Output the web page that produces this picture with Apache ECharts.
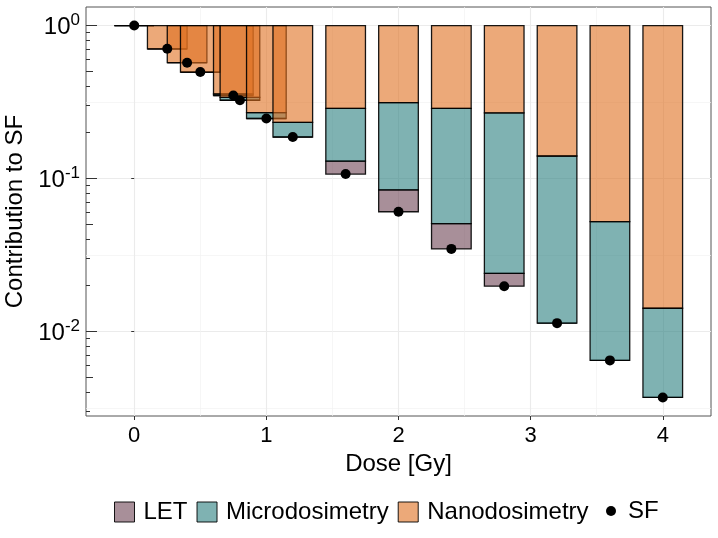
<!DOCTYPE html>
<html>
<head>
<meta charset="utf-8">
<script src="https://cdn.jsdelivr.net/npm/echarts@6/dist/echarts.min.js"></script>
<style>html,body{margin:0;padding:0;background:#fff}#c{width:718px;height:538px}</style>
</head>
<body>
<div id="c"></div>
<script>
const doses    = [0, 0.25, 0.4, 0.5, 0.75, 0.8, 1.0, 1.2, 1.6, 2.0, 2.4, 2.8, 3.2, 3.6, 4.0];
const sf       = [1, 0.705, 0.572, 0.497, 0.349, 0.325, 0.247, 0.187, 0.107, 0.0607, 0.0347, 0.0198, 0.01135, 0.00648, 0.00371];
const letTop   = [1, 0.705, 0.572, 0.497, 0.349, 0.325, 0.247, 0.187, 0.130, 0.0844, 0.0507, 0.0240, 0.01135, 0.00648, 0.00371];
const microTop = [1, 0.705, 0.572, 0.497, 0.357, 0.339, 0.270, 0.233, 0.288, 0.314, 0.288, 0.269, 0.1405, 0.0523, 0.0142];
const nanoTop  = [1, 1, 1, 1, 1, 1, 1, 1, 1, 1, 1, 1, 1, 1, 1];
const xTicks = [0, 1, 2, 3, 4];
const xMinor = [0.5, 1.5, 2.5, 3.5];
const yMajor = [0.01, 0.1, 1];
const yMinor = [0.00316228, 0.0316228, 0.316228];
const logMid = [0.005, 0.05, 0.5];
const logShort = [0.003,0.004,0.006,0.007,0.008,0.009,0.02,0.03,0.04,0.06,0.07,0.08,0.09,0.2,0.3,0.4,0.6,0.7,0.8,0.9];

const HALF = 0.15;
const XMIN = -0.365, XMAX = 4.365;
const YMIN = Math.pow(10, -2.552), YMAX = Math.pow(10, 0.1215);
const FONT = 'Liberation Sans, Arial, Helvetica, sans-serif';
const colors = {
  LET: 'rgba(110,68,85,0.6)',
  Microdosimetry: 'rgba(42,127,127,0.6)',
  Nanodosimetry: 'rgba(224,112,32,0.6)'
};
const STROKE = 'rgba(0,0,0,0.9)';

function rectSeries(name, lows, highs) {
  return {
    name: name,
    type: 'custom',
    xAxisIndex: 0, yAxisIndex: 0,
    clip: true,
    itemStyle: {color: colors[name], borderColor: STROKE, borderWidth: 1},
    encode: {x: 0, y: [1, 2]},
    data: doses.map((d, i) => [d, lows[i], highs[i]]),
    renderItem: function (params, api) {
      const x = api.value(0), lo = api.value(1), hi = api.value(2);
      const p1 = api.coord([x - HALF, hi]);
      const p2 = api.coord([x + HALF, lo]);
      return {
        type: 'rect',
        shape: {x: p1[0], y: p1[1], width: p2[0] - p1[0], height: p2[1] - p1[1]},
        style: {fill: colors[name], stroke: STROKE, lineWidth: 1.3}
      };
    }
  };
}

function hiddenLogAxis(extra) {
  return Object.assign({
    type: 'log', min: YMIN, max: YMAX, gridIndex: 0, position: 'left',
    axisLine: {show: false}, axisLabel: {show: false},
    axisTick: {show: false}, splitLine: {show: false}
  }, extra);
}

const chart = echarts.init(document.getElementById('c'), null, {renderer: 'canvas'});
chart.setOption({
  animation: false,
  backgroundColor: '#fff',
  textStyle: {fontFamily: FONT},
  grid: {left: 86, right: 7, top: 7, bottom: 122, show: true, borderColor: '#555', borderWidth: 1, backgroundColor: '#fff', containLabel: false, outerBoundsMode: 'none'},
  xAxis: [
    {
      type: 'value', min: XMIN, max: XMAX, gridIndex: 0,
      name: 'Dose [Gy]', nameLocation: 'middle', nameGap: 34,
      nameTextStyle: {fontSize: 24, color: '#000', fontFamily: FONT},
      axisLine: {show: false},
      axisTick: {show: true, length: 4, inside: false, customValues: xTicks, lineStyle: {color: '#333', width: 1}},
      axisLabel: {customValues: xTicks, fontSize: 22, color: '#000', margin: 9, fontFamily: FONT},
      splitLine: {show: true, lineStyle: {color: '#ebebeb', width: 1.1}}
    },
    {
      type: 'value', min: XMIN, max: XMAX, gridIndex: 0, position: 'bottom',
      axisLine: {show: false}, axisLabel: {show: false},
      axisTick: {show: false, customValues: xMinor},
      splitLine: {show: true, lineStyle: {color: '#f2f2f2', width: 0.7}}
    }
  ],
  yAxis: [
    {
      type: 'log', min: YMIN, max: YMAX, gridIndex: 0,
      name: 'Contribution to SF', nameLocation: 'middle', nameGap: 56, nameRotate: 90,
      nameTextStyle: {fontSize: 24, color: '#000', fontFamily: FONT},
      axisLine: {show: false},
      axisTick: {show: true, length: 3, customValues: yMajor, lineStyle: {color: '#333', width: 1}},
      axisLabel: {
        customValues: yMajor, margin: 6, color: '#000', fontFamily: FONT,
        formatter: function (v) {
          const e = Math.round(Math.log10(v));
          return '{b|10}{s|' + e + '}';
        },
        rich: {
          b: {fontSize: 24, fontFamily: FONT, color: '#000', verticalAlign: 'bottom', lineHeight: 28},
          s: {fontSize: 17, fontFamily: FONT, color: '#000', verticalAlign: 'top', lineHeight: 28}
        }
      },
      splitLine: {show: true, lineStyle: {color: '#ebebeb', width: 1.1}}
    },
    hiddenLogAxis({axisTick: {show: false, customValues: yMinor}, splitLine: {show: true, lineStyle: {color: '#f2f2f2', width: 0.7}}}),
    hiddenLogAxis({axisTick: {show: true, inside: true, length: 11, customValues: yMajor, lineStyle: {color: '#333', width: 1}}}),
    hiddenLogAxis({axisTick: {show: true, inside: true, length: 7, customValues: logMid, lineStyle: {color: '#333', width: 1}}}),
    hiddenLogAxis({axisTick: {show: true, inside: true, length: 4, customValues: logShort, lineStyle: {color: '#333', width: 1}}})
  ],
  legend: [
    {
      left: 114, top: 500, padding: 0, itemWidth: 20, itemHeight: 20, itemGap: 9, icon: 'rect',
      textStyle: {fontSize: 24, lineHeight: 20, color: '#000', fontFamily: FONT, padding: [0, 0, 0, 4]},
      data: ['LET', 'Microdosimetry', 'Nanodosimetry'].map(n => ({name: n, icon: 'rect', itemStyle: {color: colors[n], borderColor: STROKE, borderWidth: 1}})),
      selectedMode: false
    },
    {
      left: 606, top: 499, padding: 0, itemWidth: 10, itemHeight: 10,
      textStyle: {fontSize: 24, lineHeight: 10, color: '#000', fontFamily: FONT, padding: [0, 0, 0, 7]},
      data: [{name: 'SF', icon: 'circle', itemStyle: {color: '#000', opacity: 1}}],
      selectedMode: false
    }
  ],
  series: [
    rectSeries('LET', sf, letTop),
    rectSeries('Microdosimetry', letTop, microTop),
    rectSeries('Nanodosimetry', microTop, nanoTop),
    {
      name: 'SF', type: 'scatter', xAxisIndex: 0, yAxisIndex: 0,
      symbol: 'circle', symbolSize: 10, itemStyle: {color: '#000', opacity: 1}, z: 5,
      data: doses.map((d, i) => [d, sf[i]])
    }
  ]
});
</script>
</body>
</html>
